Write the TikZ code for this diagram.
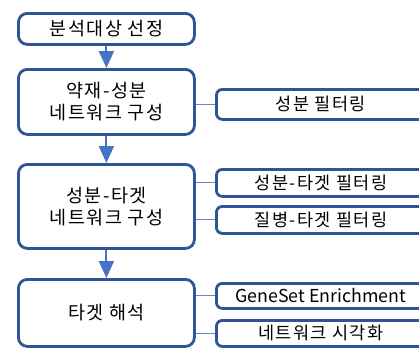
\documentclass[tikz,border=0pt]{standalone}
\usepackage{fontspec}
\setmainfont{Noto Sans CJK KR}[LetterSpace=8]
\newfontfamily\latinfont{Noto Sans CJK KR}
\usetikzlibrary{arrows.meta}
\definecolor{boxblue}{HTML}{2F5597}
\definecolor{arrblue}{HTML}{4472C4}
\definecolor{lineblue}{HTML}{5B8BD0}
\tikzset{
  mainbox/.style={draw=boxblue, line width=2.8bp, rounded corners=9bp, fill=white,
    minimum width=176bp, inner sep=0pt, align=center, font=\fontsize{18.5bp}{22bp}\selectfont, anchor=north west},
  sidebox/.style={draw=boxblue, line width=2.8bp, rounded corners=6bp, fill=white,
    minimum width=209bp, inner sep=0pt, align=center, font=\fontsize{17.5bp}{20bp}\selectfont, anchor=north west},
  flow/.style={draw=arrblue, line width=2bp, -{Triangle[width=15bp,length=17bp]}, fill=arrblue},
  link/.style={draw=lineblue, line width=0.9bp}
}
\begin{document}
\begin{tikzpicture}[x=1bp,y=-1bp]
\useasboundingbox (0,0) rectangle (419,348);
\node[mainbox, minimum height=31bp] (n1) at (17,12) {분석대상 선정};
\node[mainbox, minimum height=65bp] (n2) at (17,68) {약재-성분\\네트워크 구성};
\node[mainbox, minimum height=84bp] (n3) at (17,163) {성분-타겟\\네트워크 구성};
\node[mainbox, minimum height=67bp] (n4) at (17,278) {타겟 해석};
\node[sidebox, minimum height=30bp] (r1) at (215,88) {성분 필터링};
\node[sidebox, minimum height=27bp] (r2) at (215,168) {성분-타겟 필터링};
\node[sidebox, minimum height=27bp] (r3) at (215,205) {질병-타겟 필터링};
\node[sidebox, minimum height=25bp] (r4) at (215,282) {\latinfont\fontsize{17.8bp}{20bp}\selectfont GeneSet Enrichment};
\node[sidebox, minimum height=26bp] (r5) at (215,319) {네트워크 시각화};
\draw[flow] (n1.south) -- (n2.north);
\draw[flow] (n2.south) -- (n3.north);
\draw[flow] (n3.south) -- (n4.north);
\draw[link] (r1.west) -- (r1.west -| n2.east);
\draw[link] (r2.west) -- (r2.west -| n3.east);
\draw[link] (r3.west) -- (r3.west -| n3.east);
\draw[link] (r4.west) -- (r4.west -| n4.east);
\draw[link] (r5.west) -- (r5.west -| n4.east);
\end{tikzpicture}
\end{document}
